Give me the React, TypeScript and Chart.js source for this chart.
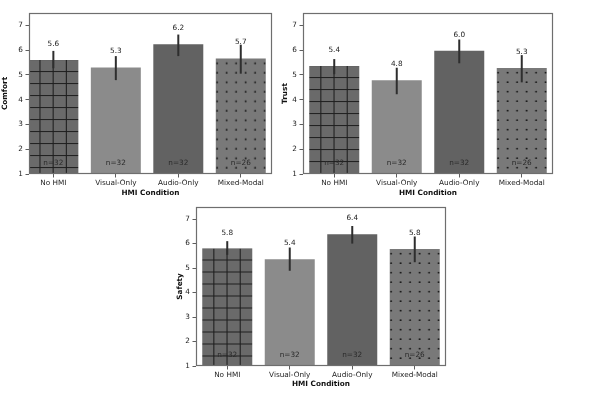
import React, { useEffect, useRef } from 'react';
import { Chart, registerables } from 'chart.js';

Chart.register(...registerables);

// ---------- data ----------
const categories = ['No HMI', 'Visual-Only', 'Audio-Only', 'Mixed-Modal'];
const sampleSizes = [32, 32, 32, 26];
const yTickValues = [1, 2, 3, 4, 5, 6, 7];
const xAxisTitle = 'HMI Condition';

const comfortMeans = [5.6, 5.3, 6.24, 5.66];
const comfortLow = [5.27, 4.79, 5.76, 5.05];
const comfortHigh = [5.97, 5.76, 6.63, 6.22];

const trustMeans = [5.36, 4.78, 5.98, 5.28];
const trustLow = [5.03, 4.22, 5.47, 4.7];
const trustHigh = [5.64, 5.29, 6.43, 5.8];

const safetyMeans = [5.8, 5.36, 6.38, 5.78];
const safetyLow = [5.54, 4.89, 6.0, 5.24];
const safetyHigh = [6.1, 5.84, 6.72, 6.29];

// ---------- styling ----------
const FONT = 'DejaVu Sans';
const FS = 7.3;
const barColors = ['#6a6a6a', '#8b8b8b', '#626262', '#797979'];
const hatchKinds = ['grid', 'none', 'none', 'dots'];

type Panel = {
  title: string;
  means: number[];
  low: number[];
  high: number[];
  left: number;
  top: number;
  w: number;
  h: number;
  plotLeft: number;
  plotRight: number;
  plotTop: number;
  plotBottom: number;
  xMin: number;
  xMax: number;
};

const panels: Panel[] = [
  { title: 'Comfort', means: comfortMeans, low: comfortLow, high: comfortHigh,
    left: 0, top: 0, w: 290, h: 200, plotLeft: 29, plotRight: 272, plotTop: 13, plotBottom: 174, xMin: -0.39, xMax: 3.5 },
  { title: 'Trust', means: trustMeans, low: trustLow, high: trustHigh,
    left: 280, top: 0, w: 310, h: 200, plotLeft: 23, plotRight: 273, plotTop: 13, plotBottom: 174, xMin: -0.5, xMax: 3.5 },
  { title: 'Safety', means: safetyMeans, low: safetyLow, high: safetyHigh,
    left: 175, top: 200, w: 290, h: 191, plotLeft: 21, plotRight: 271, plotTop: 4, plotBottom: 166, xMin: -0.5, xMax: 3.5 },
];

function makePattern(kind: string, color: string): CanvasPattern | string {
  if (kind === 'none') return color;
  const tile = document.createElement('canvas');
  const ctx = tile.getContext('2d')!;
  if (kind === 'grid') {
    tile.width = 12; tile.height = 12;
    ctx.fillStyle = color; ctx.fillRect(0, 0, 12, 12);
    ctx.fillStyle = '#1e1e1e';
    ctx.fillRect(10, 0, 1, 12);
    ctx.fillRect(0, 11, 12, 1);
  } else {
    tile.width = 19; tile.height = 19;
    ctx.fillStyle = color; ctx.fillRect(0, 0, 19, 19);
    ctx.fillStyle = '#111';
    for (const dx of [1.3, 10.8]) for (const dy of [4.7, 14.2]) {
      ctx.beginPath(); ctx.arc(dx, dy, 0.9, 0, Math.PI * 2); ctx.fill();
    }
  }
  const pat = ctx.createPattern(tile, 'repeat');
  return pat || color;
}

function makeOverlay(p: Panel, fills: (CanvasPattern | string)[]) {
  return {
    id: 'overlay_' + p.title,
    beforeDatasetsDraw(chart: any) {
      // align each hatch pattern with the top-left corner of its bar
      const meta = chart.getDatasetMeta(0);
      meta.data.forEach((el: any, i: number) => {
        const f = fills[i];
        if (f && typeof f !== 'string' && (f as any).setTransform) {
          const m = new DOMMatrix().translate(el.x - el.width / 2, el.y);
          if (hatchKinds[i] === 'grid') m.scaleSelf(1.1, 1.0);
          (f as CanvasPattern).setTransform(m);
        }
      });
    },
    afterDatasetsDraw(chart: any) {
      const { ctx, chartArea, scales } = chart;
      const x = scales.x; const y = scales.y;
      ctx.save();
      // error bars
      ctx.strokeStyle = '#2e2e2e';
      ctx.lineWidth = 2;
      p.low.forEach((lo, i) => {
        const px = x.getPixelForValue(i);
        ctx.beginPath();
        ctx.moveTo(px, y.getPixelForValue(lo));
        ctx.lineTo(px, y.getPixelForValue(p.high[i]));
        ctx.stroke();
      });
      // value labels
      ctx.font = `${FS}px "${FONT}"`;
      ctx.fillStyle = '#222';
      ctx.textAlign = 'center';
      ctx.textBaseline = 'bottom';
      p.means.forEach((m, i) => {
        ctx.fillText(m.toFixed(1), x.getPixelForValue(i), y.getPixelForValue(m + 0.5));
      });
      // n labels
      ctx.textBaseline = 'middle';
      ctx.fillStyle = '#2a2a2a';
      sampleSizes.forEach((n, i) => {
        ctx.fillText('n=' + n, x.getPixelForValue(i), y.getPixelForValue(1.44));
      });
      // frame
      ctx.strokeStyle = '#6e6e6e';
      ctx.lineWidth = 1.2;
      const l = Math.round(chartArea.left) + 0.5;
      const t = Math.round(chartArea.top) + 0.5;
      const r = Math.round(chartArea.right) - 0.5;
      const b = Math.round(chartArea.bottom) - 0.5;
      ctx.strokeRect(l, t, r - l, b - t);
      ctx.restore();
    },
  };
}

function PanelChart({ p }: { p: Panel }) {
  const ref = useRef<HTMLCanvasElement>(null);
  useEffect(() => {
    const canvas = ref.current!;
    const bg = categories.map((_, i) => makePattern(hatchKinds[i], barColors[i]));
    const chart = new Chart(canvas, {
      type: 'bar',
      data: {
        datasets: [{
          data: p.means.map((m, i) => ({ x: i, y: m })),
          backgroundColor: bg as any,
          borderWidth: 0,
          barPercentage: 0.8,
          categoryPercentage: 1,
        }],
      },
      options: {
        animation: false,
        responsive: false,
        devicePixelRatio: 1,
        layout: { padding: { top: p.plotTop, right: p.w - p.plotRight, left: 0, bottom: 0 } },
        plugins: { legend: { display: false }, tooltip: { enabled: false }, title: { display: false } },
        scales: {
          x: {
            type: 'linear',
            min: p.xMin,
            max: p.xMax,
            offset: false,
            afterBuildTicks: (s: any) => { s.ticks = categories.map((_, i) => ({ value: i })); },
            afterFit: (s: any) => { s.height = p.h - p.plotBottom; },
            ticks: {
              callback: (v: any) => categories[v as number] ?? '',
              font: { family: FONT, size: FS },
              color: '#222',
              padding: 1,
              maxRotation: 0,
              autoSkip: false,
            },
            grid: { display: true, drawOnChartArea: false, drawTicks: true, tickLength: 3.5, color: '#333', lineWidth: 0.8, offset: false },
            border: { display: false },
            title: { display: true, text: xAxisTitle, font: { family: FONT, size: FS, weight: 'bold' }, color: '#111', padding: { top: 0, bottom: 2.6 } },
          },
          y: {
            min: 1,
            max: 7.5,
            afterBuildTicks: (s: any) => { s.ticks = yTickValues.map((v) => ({ value: v })); },
            afterFit: (s: any) => { s.width = p.plotLeft; },
            ticks: { font: { family: FONT, size: FS }, color: '#222', padding: 2.5 },
            grid: { display: true, drawOnChartArea: false, drawTicks: true, tickLength: 3.5, color: '#333', lineWidth: 0.8 },
            border: { display: false },
            title: { display: true, text: p.title, font: { family: FONT, size: FS, weight: 'bold' }, color: '#111', padding: { top: 0.6, bottom: 0 } },
          },
        },
      },
      plugins: [makeOverlay(p, bg)],
    } as any);
    return () => chart.destroy();
  }, [p]);
  return (
    <canvas
      ref={ref}
      width={p.w}
      height={p.h}
      style={{ position: 'absolute', left: p.left, top: p.top, width: p.w, height: p.h, display: 'block' }}
    />
  );
}

export default function App() {
  return (
    <div style={{ position: 'absolute', left: 0, top: 0, width: 590, height: 398, background: '#fff', overflow: 'hidden' }}>
      {panels.map((p) => (
        <PanelChart key={p.title} p={p} />
      ))}
    </div>
  );
}
